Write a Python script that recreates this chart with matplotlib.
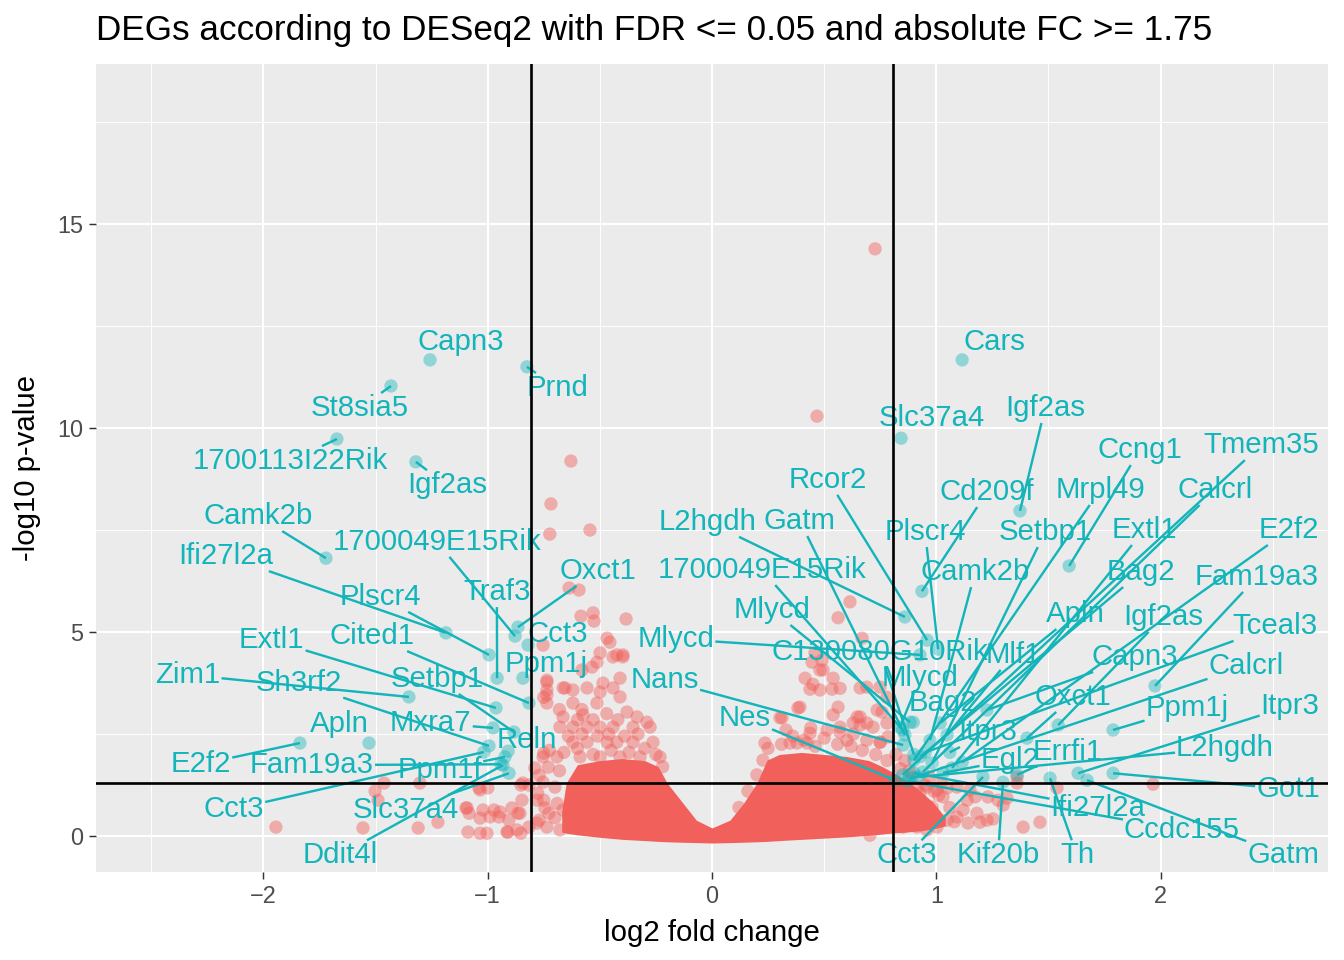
import math
import matplotlib
matplotlib.use("Agg")
import matplotlib.pyplot as plt
import numpy as np

plt.rcParams["font.family"] = ["Liberation Sans", "DejaVu Sans"]

# dense centre of the volcano (visual envelope)
core_fc = [-0.67, -0.65, -0.60, -0.50, -0.40, -0.30, -0.24, -0.20, -0.14, -0.07, 0.0,
           0.08, 0.14, 0.20, 0.245, 0.30, 0.40, 0.50, 0.60, 0.70, 0.76, 0.81, 0.87, 0.93, 0.99, 1.04]
core_low = [0.10, 0.07, 0.03, -0.03, -0.08, -0.11, -0.13, -0.14, -0.15, -0.16, -0.17,
            -0.16, -0.15, -0.14, -0.13, -0.11, -0.08, -0.05, -0.02, 0.02, 0.05, 0.08, 0.10, 0.13, 0.18, 0.25]
core_high = [0.6, 1.3, 1.75, 1.85, 1.9, 1.85, 1.7, 1.3, 0.88, 0.39, 0.2,
             0.39, 0.8, 1.3, 1.86, 2.0, 2.05, 2.0, 1.95, 1.85, 1.7, 1.55, 1.35, 1.1, 0.8, 0.45]

# non significant genes outside the dense centre
ns_fc = [0.727, 0.468, -0.629, -0.718, -0.723, -0.544, 0.615,
         -0.637, -0.593, -0.584, -0.530, -0.526, -0.383, -0.468, -0.455, -0.499, -0.424, -0.397,
         -0.513, -0.580, -0.753, -0.736, -0.736, -0.664, -0.750, -0.535, -0.441, -0.397,
         -0.736, -0.410, -0.486, -0.655, -0.620, -0.557, -0.499, -0.441, -0.410, -0.736, -0.736,
         -0.620, -0.513, -0.664, -0.575, -0.379, -0.334, -0.290,
         -0.678, -0.620, -0.557, -0.499, -0.441, -0.352, -0.276,
         -0.620, -0.557, -0.468, -0.424, -0.352, -0.263,
         -0.753, -0.691, -0.588, -0.499, -0.410, -0.321, -0.232,
         -0.66, -0.60, -0.53, -0.45, -0.37, -0.30, -0.25,
         -0.64, -0.58, -0.51, -0.46, -0.39, -0.33,
         -0.60, -0.53, -0.47, -0.42, -0.68, -0.58,
         -0.22, -0.68, -0.70, -0.69, -0.70,
         -0.750, -0.725, -0.790, -0.770, -0.730, -0.777, -0.750, -0.727, -0.770,
         -0.843, -0.753, -0.847, -0.892, -0.945, -0.990, -1.034, -1.092, -1.088, -1.034, -1.003,
         -0.914, -0.869, -0.856, -1.310, -1.222, -1.034, -0.780, -0.745, -0.780, -0.736, -0.678,
         -0.664, -1.944, -1.462, -1.502, -1.489, -1.556, -1.302, -1.097, -1.083, -1.021, -1.039,
         -0.999, -0.972, -0.950, -0.905, -0.865, -0.852, -0.816, -0.910, -0.852, -0.816,
         0.562, 0.669, 0.459, 0.490, 0.495, 0.415, 0.540, 0.437, 0.481, 0.535, 0.571, 0.749,
         0.780, 0.562, 0.383, 0.312, 0.540, 0.660, 0.629, 0.690, 0.392, 0.303, 0.236, 0.348,
         0.660, 0.450, 0.446, 0.481, 0.690, 0.736, 0.758, 0.780, 0.785, 0.718, 0.647, 0.660,
         0.571, 0.513, 0.437, 0.379, 0.424, 0.602, 0.690, 0.749, 0.227,
         0.25, 0.31, 0.36, 0.41, 0.46, 0.50, 0.56, 0.62, 0.67, 0.73, 0.78, 0.84, 0.89, 0.95,
         1.01, 1.06, 1.08, 0.20, 0.16, 0.12, 0.33, 0.44, 0.57, 0.63, 0.75, 0.82, 0.86, 0.88,
         0.97, 1.02, 0.99,
         1.966, 1.462, 1.387, 1.298, 1.253, 1.538, 1.360, 1.315, 1.181, 1.226, 1.119, 1.092,
         1.048, 1.003, 0.958, 0.852, 0.704, 1.150, 1.137, 1.030, 0.981, 0.918, 0.914, 1.275,
         1.195, 1.141, 0.914, 1.360, 1.230, 1.173, 1.092, 1.048, 1.003, 0.958, 0.927]
ns_logp = [14.39, 10.29, 9.19, 8.14, 7.40, 7.50, 5.74,
           6.08, 6.03, 5.39, 5.47, 5.27, 5.32, 4.85, 4.75, 4.49, 4.44, 4.44,
           4.26, 4.07, 4.68, 3.82, 3.58, 3.63, 3.40, 4.14, 4.39, 4.39,
           3.77, 3.87, 3.75, 3.63, 3.58, 3.63, 3.53, 3.63, 3.41, 3.46, 3.26,
           3.26, 3.26, 2.92, 2.97, 3.04, 2.92, 2.79,
           2.67, 2.67, 2.67, 2.67, 2.67, 2.67, 2.67,
           2.30, 2.30, 2.30, 2.30, 2.30, 2.30,
           1.94, 1.94, 1.94, 1.94, 1.94, 1.94, 1.94,
           2.05, 2.15, 2.00, 2.10, 2.05, 2.15, 2.00,
           2.45, 2.50, 2.45, 2.50, 2.45, 2.50,
           2.85, 2.85, 3.00, 2.85, 3.10, 3.10,
           1.70, 1.60, 1.20, 0.80, 0.45,
           2.03, 2.10, 1.67, 1.49, 1.69, 1.05, 0.88, 0.56, 0.39,
           1.30, 1.32, 0.88, 0.69, 0.59, 0.47, 0.44, 0.69, 0.10, 0.07, 0.07,
           0.10, 0.15, 0.56, 0.20, 0.34, 1.13, 0.88, 0.69, 0.32, 0.22, 0.15,
           0.64, 0.22, 1.30, 1.10, 0.88, 0.20, 1.30, 0.69, 0.56, 0.64, 1.18,
           1.18, 0.64, 0.47, 0.39, 0.56, 1.25, 1.25, 0.10, 0.07, 0.22,
           5.35, 4.85, 4.49, 4.31, 4.07, 3.87, 3.87, 3.60, 3.58, 3.60, 3.62, 3.65,
           3.40, 3.16, 3.14, 2.90, 2.97, 2.92, 2.77, 2.77, 3.16, 2.90, 2.28, 2.28,
           3.63, 3.72, 4.26, 4.07, 3.65, 3.09, 3.04, 2.77, 2.43, 2.67, 2.92, 2.72,
           2.67, 2.60, 2.52, 2.28, 2.28, 2.35, 2.35, 2.30, 1.86,
           2.15, 2.25, 2.45, 2.35, 2.20, 2.40, 2.25, 2.20, 2.10, 2.00, 1.85, 1.65, 1.45, 1.25,
           1.00, 0.70, 0.35, 1.50, 1.10, 0.70, 2.60, 2.65, 2.55, 2.50, 2.30, 2.00, 1.85, 1.60,
           1.45, 1.30, 1.10,
           1.27, 0.34, 0.22, 0.76, 0.42, 1.18, 1.45, 0.93, 0.56, 0.39, 0.64, 0.47,
           0.39, 0.22, 0.15, 0.22, 0.02, 1.13, 0.88, 0.96, 0.71, 0.56, 1.20, 0.88,
           0.34, 0.32, 0.22, 1.30, 0.96, 0.96, 1.20, 1.18, 1.13, 1.20, 1.05]

# differentially expressed genes (labelled)
deg_gene = ["Capn3", "St8sia5", "Prnd", "1700113I22Rik", "Igf2as", "Camk2b", "Ifi27l2a",
            "1700049E15Rik", "Oxct1", "Traf3", "Plscr4", "Cct3", "Ppm1j", "Cited1", "Extl1",
            "Zim1", "Sh3rf2", "Setbp1", "Mxra7", "Reln", "Apln", "E2f2", "Fam19a3", "Ppm1f",
            "Cct3", "Slc37a4", "Ddit4l",
            "Cars", "Slc37a4", "Igf2as", "Rcor2", "Ccng1", "Tmem35", "Cd209f", "Mrpl49",
            "Calcrl", "L2hgdh", "Gatm", "Plscr4", "Setbp1", "Extl1", "E2f2", "1700049E15Rik",
            "Camk2b", "Bag2", "Fam19a3", "Mlycd", "Apln", "Igf2as", "Tceal3", "Mlycd",
            "C130080G10Rik", "Mlf1", "Capn3", "Nans", "Mlycd", "Calcrl", "Oxct1", "Bag2",
            "Ppm1j", "Itpr3", "Nes", "Itpr3", "L2hgdh", "Errfi1", "Egl2", "Got1", "Ifi27l2a",
            "Ccdc155", "Gatm", "Cct3", "Kif20b", "Th"]
deg_fc = [-1.257, -1.431, -0.825, -1.672, -1.320, -1.721, -1.186,
          -0.878, -0.865, -0.958, -0.994, -0.820, -0.843, -0.816, -0.963,
          -1.351, -0.994, -0.883, -0.976, -0.909, -1.529, -1.837, -0.941, -0.923,
          -1.017, -0.905, -0.932,
          1.115, 0.843, 1.373, 0.959, 1.592, 0.850, 0.936, 0.900,
          0.940, 0.860, 0.860, 1.008, 0.981, 1.070, 1.115, 0.850,
          0.972, 0.930, 1.975, 0.883, 1.017, 1.543, 0.950, 0.927,
          0.900, 1.048, 1.226, 0.852, 0.838, 0.880, 1.404, 0.897,
          1.788, 1.632, 0.816, 1.060, 0.920, 1.360, 1.030, 1.788, 0.900,
          0.870, 1.672, 1.208, 1.297, 1.507]
deg_logp = [11.67, 11.03, 11.50, 9.73, 9.17, 6.81, 4.98,
            4.90, 5.12, 3.87, 4.44, 4.68, 3.87, 3.26, 3.14,
            3.41, 2.21, 2.55, 2.65, 2.08, 2.28, 2.28, 1.76, 1.94,
            2.06, 1.54, 1.74,
            11.67, 9.75, 7.97, 4.80, 6.62, 1.50, 6.00, 1.86,
            1.57, 5.37, 2.48, 4.58, 1.79, 1.67, 1.81, 2.60,
            2.35, 1.95, 3.68, 2.79, 2.77, 2.72, 2.05, 4.44,
            2.00, 2.48, 3.09, 2.23, 2.67, 1.40, 2.40, 2.79,
            2.60, 1.54, 1.37, 2.05, 1.45, 1.50, 1.55, 1.54, 1.55,
            1.35, 1.37, 1.45, 1.32, 1.42]

# where the repelled labels sit
label_x = [-1.119, -1.569, -0.687, -1.881, -1.181, -2.024, -2.167,
           -1.226, -0.508, -0.959, -1.480, -0.687, -0.740, -1.516, -1.962,
           -2.336, -1.841, -1.226, -1.253, -0.825, -1.663, -2.278, -1.783, -1.213,
           -2.131, -1.364, -1.659,
           1.257, 0.981, 1.485, 0.517, 1.908, 2.448, 1.226, 1.730,
           2.243, -0.018, 0.392, 0.950, 1.485, 1.926, 2.572, 0.223,
           1.173, 1.913, 2.430, 0.267, 1.618, 2.011, 2.510, -0.161,
           0.749, 1.342, 1.886, -0.210, 0.927, 2.381, 1.609, 1.030,
           2.118, 2.577, 0.147, 1.231, 2.287, 1.587, 1.329, 2.568, 1.721,
           2.095, 2.546, 0.869, 1.275, 1.627]
label_y = [12.11, 10.49, 10.98, 9.19, 8.60, 7.84, 6.86,
           7.21, 6.50, 5.98, 5.86, 4.95, 4.22, 4.90, 4.80,
           3.95, 3.75, 3.85, 2.77, 2.35, 2.75, 1.76, 1.74, 1.62,
           0.66, 0.64, -0.47,
           12.11, 10.25, 10.49, 8.73, 9.46, 9.58, 8.43, 8.48,
           8.48, 7.70, 7.72, 7.45, 7.45, 7.50, 7.50, 6.52,
           6.47, 6.47, 6.35, 5.54, 5.44, 5.37, 5.15, 4.83,
           4.51, 4.44, 4.39, 3.82, 3.87, 4.17, 3.41, 3.26,
           3.14, 3.19, 2.89, 2.55, 2.16, 2.06, 1.86, 1.15, 0.69,
           0.15, -0.47, -0.47, -0.47, -0.47]

red = "#F1605B"
teal = "#13B5BA"

fig = plt.figure(figsize=(7, 5), dpi=192)
ax = fig.add_axes([96 / 1344, 88 / 960, 1232 / 1344, 808 / 960])
ax.set_facecolor("#EBEBEB")
for s in ax.spines.values():
    s.set_visible(False)

ax.set_xlim(-2.746, 2.746)
ax.set_ylim(-0.88, 18.92)
ax.set_xticks([-2, -1, 0, 1, 2])
ax.set_yticks([0, 5, 10, 15])
ax.set_xticks([-2.5, -1.5, -0.5, 0.5, 1.5, 2.5], minor=True)
ax.set_yticks([2.5, 7.5, 12.5, 17.5], minor=True)
ax.grid(which="major", color="white", lw=0.75)
ax.grid(which="minor", color="white", lw=0.37)
ax.set_axisbelow(True)
ax.tick_params(which="major", length=2.75, width=0.55, color="#333333",
               labelsize=8.8, labelcolor="#4D4D4D", pad=2.2)
ax.tick_params(which="minor", length=0)

ax.fill_between(core_fc, core_low, core_high, color=red, lw=0, zorder=2)
ax.scatter(ns_fc, ns_logp, s=25, color=red, alpha=0.45, edgecolors="none", zorder=2)
ax.scatter(deg_fc, deg_logp, s=25, color=teal, alpha=0.42, edgecolors="none", zorder=2)

texts = []
for g, lx, ly in zip(deg_gene, label_x, label_y):
    texts.append(ax.text(lx, ly, g, ha="center", va="center", fontsize=11,
                         color=teal, zorder=4))

# ggrepel-like segments from label box to its point
fig.canvas.draw()
renderer = fig.canvas.get_renderer()
inv = ax.transData.inverted()
for t, fx, fy in zip(texts, deg_fc, deg_logp):
    bb = t.get_window_extent(renderer)
    px, py = ax.transData.transform((fx, fy))
    cx, cy = (bb.x0 + bb.x1) / 2, (bb.y0 + bb.y1) / 2
    dx, dy = px - cx, py - cy
    hw, hh = bb.width / 2 + 1, bb.height / 2 + 1
    tx = hw / abs(dx) if dx else math.inf
    ty = hh / abs(dy) if dy else math.inf
    k = min(tx, ty)
    if k >= 1:
        continue
    sx, sy = cx + k * dx, cy + k * dy
    if math.hypot(px - sx, py - sy) < 10:
        continue
    x0, y0 = inv.transform((sx, sy))
    ax.plot([x0, fx], [y0, fy], color=teal, lw=0.9, zorder=3, solid_capstyle="butt")

ax.axvline(-math.log2(1.75), color="black", lw=1.0, zorder=5)
ax.axvline(math.log2(1.75), color="black", lw=1.0, zorder=5)
ax.axhline(-math.log10(0.05), color="black", lw=1.0, zorder=5)

ax.set_xlabel("log2 fold change", fontsize=11, labelpad=4)
ax.set_ylabel("-log10 p-value", fontsize=11, labelpad=6)
fig.text(96 / 1344, 1 - 40 / 960,
         "DEGs according to DESeq2 with FDR <= 0.05 and absolute FC >= 1.75",
         fontsize=13.2, ha="left", va="baseline")

fig.savefig("out.png", dpi=192)
